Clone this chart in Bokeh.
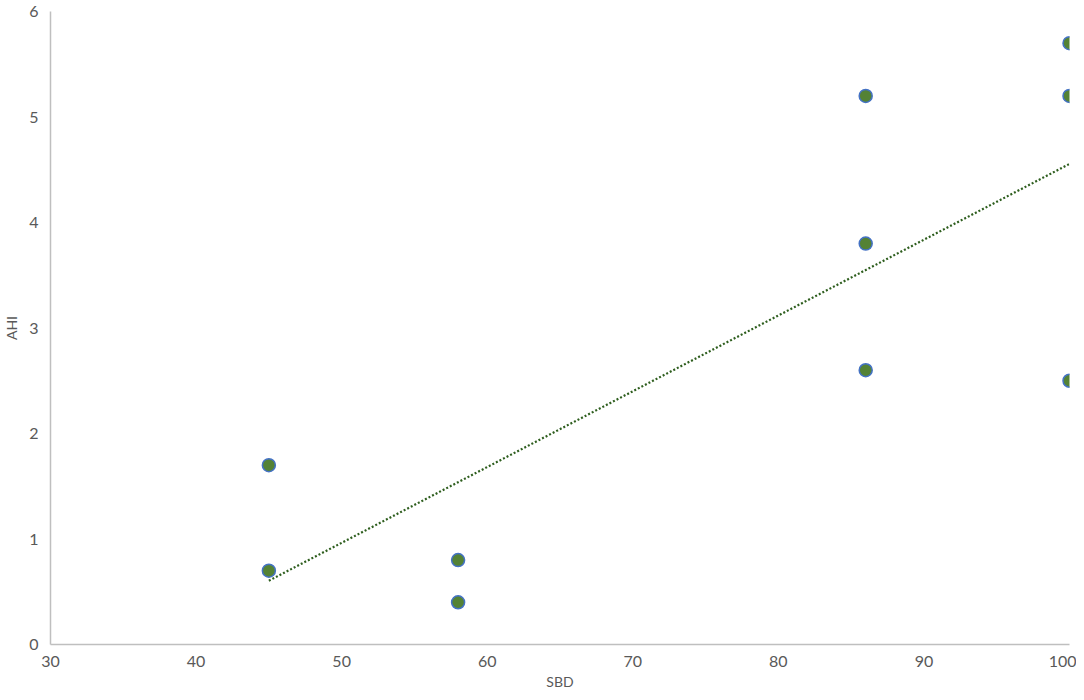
from bokeh.plotting import figure
from bokeh.models import Range1d, FixedTicker
from bokeh.embed import file_html
from bokeh.resources import INLINE
import numpy as np

sbd = [45, 45, 58, 58, 86, 86, 86, 100, 100, 100]
ahi = [1.7, 0.7, 0.8, 0.4, 5.2, 3.8, 2.6, 5.7, 5.2, 2.5]
x_ticks = [30, 40, 50, 60, 70, 80, 90, 100]
y_ticks = [0, 1, 2, 3, 4, 5, 6]

# linear trendline (least squares) derived from the data
slope, intercept = np.polyfit(sbd, ahi, 1)
tx = [min(sbd), max(sbd)]
ty = [slope * v + intercept for v in tx]

FONT = "Lato"
TXT = "#595959"

p = figure(width=1076, height=692, output_backend="svg", toolbar_location=None,
           x_range=Range1d(30, 100), y_range=Range1d(0, 6),
           min_border_left=0, min_border_right=7, min_border_top=11, min_border_bottom=0)
p.outline_line_color = None
p.grid.grid_line_color = None
p.background_fill_color = "white"

for ax in (p.xaxis[0], p.yaxis[0]):
    ax.axis_line_color = "#BFBFBF"
    ax.axis_line_width = 1.5
    ax.major_tick_line_color = None
    ax.minor_tick_line_color = None
    ax.major_tick_out = 0
    ax.major_tick_in = 0
    ax.minor_tick_out = 0
    ax.minor_tick_in = 0
    ax.major_label_text_font = FONT
    ax.major_label_text_font_size = "16px"
    ax.major_label_text_color = TXT
    ax.axis_label_text_font = FONT
    ax.axis_label_text_font_size = "14px"
    ax.axis_label_text_color = TXT
    ax.axis_label_text_font_style = "normal"

p.xaxis.ticker = FixedTicker(ticks=x_ticks)
p.yaxis.ticker = FixedTicker(ticks=y_ticks)
p.xaxis.axis_label = "SBD"
p.yaxis.axis_label = "AHI"
p.xaxis.major_label_standoff = 11
p.xaxis.axis_label_standoff = 3
p.yaxis.major_label_standoff = 12
p.yaxis.axis_label_standoff = 6

p.line(tx, ty, line_color="#2E5E1E", line_width=2.2, line_dash="2 2")
p.scatter(sbd, ahi, size=13, fill_color="#548235", line_color="#4472C4", line_width=1.5)

open("out.html", "w").write(file_html(p, INLINE))
